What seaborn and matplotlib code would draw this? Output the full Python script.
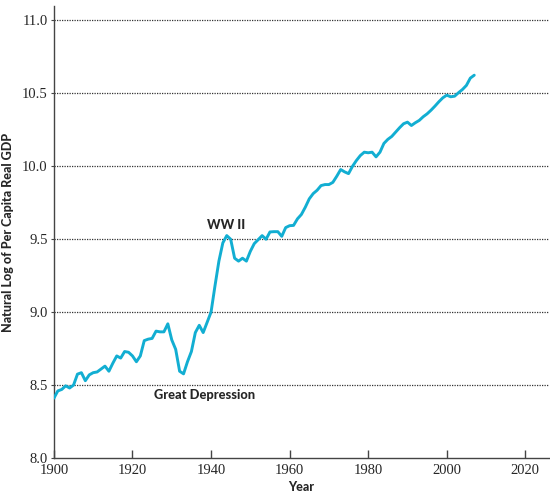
import numpy as np
import pandas as pd
import matplotlib
matplotlib.use("Agg")
import matplotlib.pyplot as plt
import seaborn as sns

# ---- data ----
years = list(range(1900, 2008))
log_gdp = [
    8.41, 8.46, 8.47, 8.495, 8.48, 8.50, 8.575, 8.585, 8.53, 8.57,      # 1900s
    8.585, 8.59, 8.61, 8.63, 8.595, 8.65, 8.70, 8.685, 8.73, 8.725,     # 1910s
    8.70, 8.66, 8.70, 8.805, 8.815, 8.82, 8.87, 8.865, 8.865, 8.92,     # 1920s
    8.81, 8.745, 8.595, 8.577, 8.66, 8.73, 8.86, 8.91, 8.86, 8.93,      # 1930s
    9.00, 9.18, 9.35, 9.475, 9.525, 9.50, 9.37, 9.35, 9.37, 9.35,       # 1940s
    9.417, 9.47, 9.497, 9.525, 9.50, 9.55, 9.552, 9.552, 9.52, 9.58,    # 1950s
    9.593, 9.595, 9.64, 9.67, 9.72, 9.777, 9.813, 9.836, 9.868, 9.875,  # 1960s
    9.875, 9.89, 9.932, 9.978, 9.962, 9.95, 10.0, 10.04, 10.074, 10.097,  # 1970s
    10.093, 10.097, 10.065, 10.097, 10.157, 10.185, 10.205, 10.235, 10.265, 10.292,  # 1980s
    10.303, 10.28, 10.299, 10.315, 10.34, 10.36, 10.385, 10.413, 10.443, 10.47,      # 1990s
    10.488, 10.477, 10.481, 10.505, 10.527, 10.555, 10.605, 10.625,     # 2000s
]
x_ticks = [1900, 1920, 1940, 1960, 1980, 2000, 2020]
y_ticks = [8.0, 8.5, 9.0, 9.5, 10.0, 10.5, 11.0]
grid_levels = [8.5, 9.0, 9.5, 10.0, 10.5, 11.0]

notes = ["WW II", "Great Depression"]
note_x = [1943.9, 1938.4]
note_y = [9.60, 8.43]

LINE_COLOR = "#12aed2"
SERIF = "Liberation Serif"
SANS = "Lato"

df = pd.DataFrame({"Year": years, "LogGDP": log_gdp})

sns.set_theme(style="white")
plt.rcParams["font.family"] = [SANS, "DejaVu Sans"]

fig = plt.figure(figsize=(5.5, 4.93), dpi=100)
ax = fig.add_axes([0.098, 0.071, 0.9, 0.917])

for lv in grid_levels:
    ax.axhline(lv, color="#333333", linestyle=(0, (1, 1)), linewidth=0.9, zorder=1)

sns.lineplot(data=df, x="Year", y="LogGDP", color=LINE_COLOR, linewidth=2.1, ax=ax, zorder=3)

ax.set_xlim(1900, 2026)
ax.set_ylim(8.0, 11.1)
ax.set_xticks(x_ticks)
ax.set_yticks(y_ticks)
ax.set_xticklabels([str(v) for v in x_ticks], fontfamily=SERIF, fontsize=10.5)
ax.set_yticklabels([f"{v:.1f}" for v in y_ticks], fontfamily=SERIF, fontsize=10.5)
ax.tick_params(axis="x", direction="in", length=6, width=1, color="#444444", pad=4)
ax.tick_params(axis="y", direction="out", length=2.5, width=0.8, color="#444444", pad=2)
ax.xaxis.set_ticks_position("bottom")
ax.yaxis.set_ticks_position("left")

for side in ["top", "right"]:
    ax.spines[side].set_visible(False)
for side in ["left", "bottom"]:
    ax.spines[side].set_color("#444444")
    ax.spines[side].set_linewidth(1.0)

ax.set_xlabel("Year", fontsize=9, fontweight="black", labelpad=3)
ax.set_ylabel("Natural Log of Per Capita Real GDP", fontsize=9, fontweight="black", labelpad=6)

for txt, tx, ty in zip(notes, note_x, note_y):
    ax.text(tx, ty, txt, ha="center", va="center", fontsize=9.3, fontweight="black", zorder=4)

fig.savefig("out.png", dpi=100)
